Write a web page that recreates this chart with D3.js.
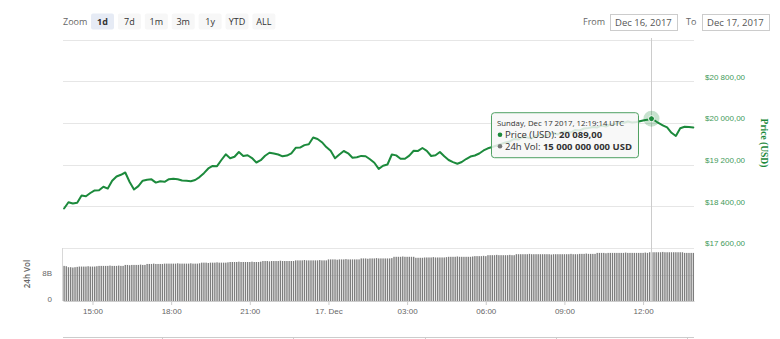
<!DOCTYPE html>
<html>
<head>
<meta charset="utf-8">
<script src="https://cdn.jsdelivr.net/npm/d3@7"></script>
<style>
  body { margin: 0; background: #fff; }
  svg { display: block; font-family: "Open Sans", "Liberation Sans", sans-serif; }
</style>
</head>
<body>
<svg id="chart" width="780" height="339"></svg>
<script>
// ---- data -------------------------------------------------------------
const seriesStart = Date.UTC(2017, 11, 16, 13, 55);   // first sample, UTC
const priceStepMinutes = 10;
const volumeStepMinutes = 5;

// BTC price in USD, one sample every 10 minutes
const priceValues = [
  18365, 18484, 18459, 18476, 18614, 18599, 18662, 18712, 18714, 18783,
  18747, 18897, 18979, 19012, 19056, 18874, 18730, 18795, 18899, 18916,
  18924, 18862, 18887, 18877, 18927, 18937, 18925, 18901, 18897, 18889,
  18912, 18968, 19043, 19133, 19181, 19177, 19296, 19406, 19331, 19358,
  19450, 19373, 19387, 19333, 19248, 19292, 19377, 19435, 19419, 19402,
  19367, 19381, 19425, 19531, 19534, 19582, 19598, 19728, 19700, 19638,
  19544, 19473, 19329, 19402, 19469, 19425, 19339, 19350, 19375, 19369,
  19310, 19244, 19125, 19185, 19210, 19402, 19385, 19321, 19319, 19381,
  19473, 19471, 19527, 19473, 19373, 19387, 19450, 19367, 19296, 19256,
  19225, 19258, 19315, 19363, 19383, 19421, 19479, 19521, 19546, 19575,
  19604, 19632, 19652, 19700, 19690, 19738, 19728, 19709, 19767, 19777,
  19748, 19796, 19815, 19786, 19834, 19844, 19825, 19873, 19863, 19901,
  19911, 19930, 19921, 19959, 19940, 19978, 19988, 20017, 20007, 20036,
  20017, 20026, 20045, 20065, 20074, 20065, 20007, 19963, 19921, 19819,
  19757, 19905, 19934, 19930, 19921
];

// rolling 24h volume in billions of USD, one bar every 5 minutes
const volumeBillions = [
  10.8, 10.7, 10.4, 10.4, 10.3, 10.4, 10.5, 10.6, 10.6, 10.6, 10.6, 10.7,
  10.6, 10.6, 10.6, 10.7, 10.8, 10.8, 10.8, 10.8, 10.8, 10.9, 10.8, 10.8,
  10.8, 10.9, 10.8, 10.8, 11.1, 11.1, 11.0, 11.1, 11.1, 11.1, 11.1, 11.2,
  11.1, 11.1, 11.4, 11.4, 11.4, 11.5, 11.4, 11.4, 11.4, 11.4, 11.5, 11.5,
  11.5, 11.5, 11.5, 11.5, 11.6, 11.5, 11.5, 11.5, 11.5, 11.5, 11.6, 11.5,
  11.5, 11.5, 11.6, 11.8, 11.8, 11.8, 11.7, 11.8, 11.8, 11.8, 11.9, 11.8,
  11.8, 11.8, 11.8, 11.9, 12.0, 12.0, 12.0, 12.0, 12.1, 12.0, 12.0, 12.0,
  12.0, 12.0, 12.1, 12.0, 12.0, 12.0, 12.1, 12.3, 12.3, 12.3, 12.2, 12.3,
  12.3, 12.3, 12.3, 12.4, 12.3, 12.3, 12.3, 12.3, 12.3, 12.3, 12.5, 12.5,
  12.5, 12.5, 12.6, 12.5, 12.5, 12.5, 12.5, 12.5, 12.5, 12.6, 12.5, 12.5,
  12.5, 12.8, 12.8, 12.8, 12.8, 12.7, 12.8, 12.8, 12.8, 12.9, 12.8, 12.8,
  12.8, 12.8, 12.8, 12.8, 13.1, 13.1, 13.1, 13.0, 13.1, 13.1, 13.1, 13.2,
  13.1, 13.1, 13.1, 13.1, 13.1, 13.1, 13.2, 13.6, 13.6, 13.6, 13.6, 13.7,
  13.6, 13.6, 13.6, 13.6, 13.6, 13.3, 13.3, 13.3, 13.3, 13.4, 13.4, 13.4,
  13.4, 13.5, 13.4, 13.4, 13.4, 13.4, 13.4, 13.5, 13.6, 13.6, 13.6, 13.6,
  13.7, 13.6, 13.6, 13.6, 13.6, 13.6, 13.6, 13.7, 13.8, 13.8, 13.8, 13.8,
  13.9, 13.8, 14.1, 14.1, 14.1, 14.1, 14.2, 14.1, 14.1, 14.1, 14.1, 14.1,
  14.2, 14.1, 14.1, 14.4, 14.4, 14.4, 14.4, 14.4, 14.4, 14.5, 14.4, 14.4,
  14.4, 14.4, 14.4, 14.4, 14.4, 14.4, 14.4, 14.3, 14.4, 14.4, 14.4, 14.4,
  14.4, 14.4, 14.4, 14.4, 14.5, 14.4, 14.4, 14.4, 14.5, 14.5, 14.5, 14.6,
  14.5, 14.5, 14.5, 14.5, 14.8, 14.8, 14.8, 14.8, 14.7, 14.8, 14.8, 14.8,
  14.8, 14.8, 14.8, 14.8, 14.8, 14.9, 14.8, 14.8, 14.8, 14.8, 14.8, 14.8,
  14.8, 14.8, 14.9, 14.8, 15.0, 15.0, 15.0, 15.0, 15.0, 15.0, 15.1, 15.0,
  15.0, 15.0, 15.0, 15.0, 15.0, 15.0, 15.0, 15.0, 14.8, 14.8, 14.8, 14.8,
  14.8
];

// highlighted point shown in the tooltip
const hoverTime = Date.UTC(2017, 11, 17, 12, 19, 14);
const hoverPrice = 20089;
const hoverVolume = 15000000000;

const priceTicks = [17600, 18400, 19200, 20000, 20800];
const priceGridTop = 21600;
const volumeTicks = [0, 8e9];
const timeTicks = [
  Date.UTC(2017, 11, 16, 15), Date.UTC(2017, 11, 16, 18), Date.UTC(2017, 11, 16, 21),
  Date.UTC(2017, 11, 17, 0), Date.UTC(2017, 11, 17, 3), Date.UTC(2017, 11, 17, 6),
  Date.UTC(2017, 11, 17, 9), Date.UTC(2017, 11, 17, 12)
];
const navigatorTicks = [
  Date.UTC(2017, 11, 13), Date.UTC(2017, 11, 14), Date.UTC(2017, 11, 15),
  Date.UTC(2017, 11, 16), Date.UTC(2017, 11, 17)
];
const rangeButtons = ["1d", "7d", "1m", "3m", "1y", "YTD", "ALL"];
const selectedRange = "1d";
const fromLabel = "Dec 16, 2017";
const toLabel = "Dec 17, 2017";

// ---- setup ------------------------------------------------------------
const svg = d3.select("#chart");
const green = "#1c8a3c";
const labelGreen = "#3f9a5a";
const gridColor = "#e6e6e6";

const locale = d3.formatLocale({ decimal: ",", thousands: "\u00a0", grouping: [3], currency: ["$", ""] });
const fmtPrice = locale.format(",.2f");
const fmtInt = locale.format(",.0f");

const plotLeft = 63, plotRight = 694;
const priceTop = 38, priceBottom = 248.3;
const volTop = 248, volBottom = 301;

const x = d3.scaleUtc()
  .domain([Date.UTC(2017, 11, 16, 13, 52, 30), Date.UTC(2017, 11, 17, 13, 56, 30)])
  .range([plotLeft, plotRight]);
const yPrice = d3.scaleLinear().domain([17600, 20800]).range([priceBottom, 81.7]);
const yVol = d3.scaleLinear().domain([0, 8e9]).range([volBottom, 275]);

const priceData = priceValues.map((p, i) => ({ t: seriesStart + i * priceStepMinutes * 60000, p }));
priceData.push({ t: hoverTime, p: hoverPrice });
priceData.sort((a, b) => a.t - b.t);

const volumeData = volumeBillions.map((v, i) => ({ t: seriesStart + i * volumeStepMinutes * 60000, v: v * 1e9 }));

// ---- range selector & date inputs --------------------------------------
const header = svg.append("g");
header.append("text").attr("x", 63).attr("y", 24.5)
  .attr("font-size", 9).attr("fill", "#666").text("Zoom");
const btn = header.selectAll("g.btn").data(rangeButtons).join("g")
  .attr("transform", (d, i) => `translate(${91 + i * 26.9},13.5)`);
btn.append("rect").attr("width", 23).attr("height", 16).attr("rx", 2)
  .attr("fill", d => d === selectedRange ? "#e6ebf5" : "#f7f7f7");
btn.append("text").attr("x", 11.5).attr("y", 11.5).attr("text-anchor", "middle")
  .attr("font-size", 9).attr("fill", "#333")
  .attr("font-weight", d => d === selectedRange ? "bold" : "normal")
  .text(d => d);

header.append("text").attr("x", 583).attr("y", 25).attr("font-size", 9).attr("fill", "#666").text("From");
header.append("rect").attr("x", 610.5).attr("y", 14.5).attr("width", 67).attr("height", 16)
  .attr("fill", "#fff").attr("stroke", "#ccc");
header.append("text").attr("x", 615).attr("y", 25.5).attr("font-size", 9.5).attr("fill", "#555").text(fromLabel);
header.append("text").attr("x", 686).attr("y", 25).attr("font-size", 9).attr("fill", "#666").text("To");
header.append("rect").attr("x", 702.5).attr("y", 14.5).attr("width", 67).attr("height", 16)
  .attr("fill", "#fff").attr("stroke", "#ccc");
header.append("text").attr("x", 707).attr("y", 25.5).attr("font-size", 9.5).attr("fill", "#555").text(toLabel);

// ---- grid -------------------------------------------------------------
const grid = svg.append("g").attr("stroke", gridColor).attr("shape-rendering", "crispEdges");
grid.selectAll("line.p").data(priceTicks.concat([priceGridTop])).join("line")
  .attr("x1", plotLeft).attr("x2", plotRight)
  .attr("y1", d => yPrice(d)).attr("y2", d => yPrice(d));
grid.selectAll("line.v").data(volumeTicks.slice(1)).join("line")
  .attr("x1", plotLeft).attr("x2", plotRight)
  .attr("y1", d => yVol(d)).attr("y2", d => yVol(d));

// ---- volume bars ------------------------------------------------------
const barStep = x(seriesStart + volumeStepMinutes * 60000) - x(seriesStart);
const barW = barStep * 0.62;
svg.append("g").attr("fill", "#7d7d7d")
  .selectAll("rect").data(volumeData).join("rect")
  .attr("x", d => x(d.t) - barW / 2)
  .attr("width", barW)
  .attr("y", d => yVol(d.v))
  .attr("height", d => yVol(0) - yVol(d.v));

// volume panel left edge
svg.append("line").attr("x1", plotLeft - 0.5).attr("x2", plotLeft - 0.5)
  .attr("y1", volTop).attr("y2", volBottom).attr("stroke", "#d8d8d8");

// ---- axes -------------------------------------------------------------
const xAxis = d3.axisBottom(x).tickValues(timeTicks).tickSize(4).tickPadding(3.5).tickSizeOuter(0)
  .tickFormat(d => {
    const dt = new Date(d);
    return dt.getUTCHours() === 0 ? "17. Dec" : d3.utcFormat("%H:%M")(dt);
  });
const gx = svg.append("g").attr("transform", `translate(0,${volBottom})`).call(xAxis);
gx.select(".domain").attr("stroke", "#ccc");
gx.selectAll(".tick line").attr("stroke", "#ccc");
gx.selectAll(".tick text").attr("fill", "#666").attr("font-size", 8).attr("font-family", null);

const yAxisR = d3.axisRight(yPrice).tickValues(priceTicks).tickSize(0).tickPadding(11)
  .tickFormat(d => "$" + fmtPrice(d));
const gy = svg.append("g").attr("transform", `translate(${plotRight},0)`).call(yAxisR);
gy.select(".domain").remove();
gy.selectAll(".tick text").attr("fill", labelGreen).attr("font-size", 8).attr("font-family", null)
  .attr("dy", -2.6);

const yAxisV = d3.axisLeft(yVol).tickValues(volumeTicks).tickSize(0).tickPadding(11)
  .tickFormat(d => (d === 0 ? "0" : d / 1e9 + "B"));
const gv = svg.append("g").attr("transform", `translate(${plotLeft},0)`).call(yAxisV);
gv.select(".domain").remove();
gv.selectAll(".tick text").attr("fill", "#666").attr("font-size", 8).attr("font-family", null)
  .attr("dy", 0);

svg.append("text").attr("transform", "translate(761,143) rotate(90)")
  .attr("text-anchor", "middle").attr("font-family", "'Liberation Serif', serif")
  .attr("font-weight", "bold").attr("font-size", 9.5).attr("fill", green)
  .text("Price (USD)");
svg.append("text").attr("transform", "translate(30,274) rotate(-90)")
  .attr("text-anchor", "middle").attr("font-weight", 600)
  .attr("font-size", 8).attr("fill", "#666").text("24h Vol");

// ---- navigator strip --------------------------------------------------
const xNav = d3.scaleUtc()
  .domain([Date.UTC(2017, 11, 12, 5, 53), Date.UTC(2017, 11, 17, 1, 17)])
  .range([plotLeft, plotRight]);
svg.append("line").attr("x1", plotLeft).attr("x2", plotRight).attr("y1", 337.5).attr("y2", 337.5)
  .attr("stroke", "#ccc");
svg.append("g").selectAll("line").data(navigatorTicks).join("line")
  .attr("x1", d => Math.round(xNav(d)) + 0.5)
  .attr("x2", d => Math.round(xNav(d)) + 0.5)
  .attr("y1", 337.5).attr("y2", 341).attr("stroke", "#ccc");

// ---- crosshair --------------------------------------------------------
const hx = x(hoverTime), hy = yPrice(hoverPrice);
svg.append("line").attr("x1", Math.round(hx) + 0.5).attr("x2", Math.round(hx) + 0.5)
  .attr("y1", priceTop).attr("y2", volBottom).attr("stroke", "#cccccc");

// ---- price line -------------------------------------------------------
const line = d3.line().x(d => x(d.t)).y(d => yPrice(d.p));
svg.append("path").datum(priceData).attr("d", line)
  .attr("fill", "none").attr("stroke", green).attr("stroke-width", 2)
  .attr("stroke-linejoin", "round").attr("stroke-linecap", "round");

// hover marker with halo
svg.append("circle").attr("cx", hx).attr("cy", hy).attr("r", 8)
  .attr("fill", green).attr("fill-opacity", 0.25);
svg.append("circle").attr("cx", hx).attr("cy", hy).attr("r", 3)
  .attr("fill", green).attr("stroke", "#fff").attr("stroke-width", 1);

// ---- tooltip ----------------------------------------------------------
const tipW = 147, tipH = 45;
const tipX = hx - 13.5 - tipW, tipY = hy - 6.5;
const tip = svg.append("g").attr("transform", `translate(${tipX},${tipY})`);
tip.append("rect").attr("x", 0.5).attr("y", 0.5).attr("width", tipW).attr("height", tipH).attr("rx", 3)
  .attr("fill", "rgba(247,247,247,0.85)").attr("stroke", "#4fa062").attr("stroke-width", 1);
tip.append("text").attr("x", 6).attr("y", 14).attr("font-size", 7.8).attr("fill", "#333")
  .text("Sunday, " + d3.utcFormat("%b %-d %Y, %H:%M:%S")(new Date(hoverTime)) + " UTC");
tip.append("circle").attr("cx", 9).attr("cy", 22.5).attr("r", 2.3).attr("fill", green);
const t1 = tip.append("text").attr("x", 14).attr("y", 25.8).attr("font-size", 9.5).attr("fill", "#333");
t1.append("tspan").text("Price (USD): ");
t1.append("tspan").attr("font-weight", "bold").text(fmtPrice(hoverPrice));
tip.append("circle").attr("cx", 9).attr("cy", 34).attr("r", 2.3).attr("fill", "#777");
const t2 = tip.append("text").attr("x", 14).attr("y", 37.3).attr("font-size", 9.5).attr("fill", "#333");
t2.append("tspan").text("24h Vol: ");
t2.append("tspan").attr("font-weight", "bold").text(fmtInt(hoverVolume) + " USD");
</script>
</body>
</html>
